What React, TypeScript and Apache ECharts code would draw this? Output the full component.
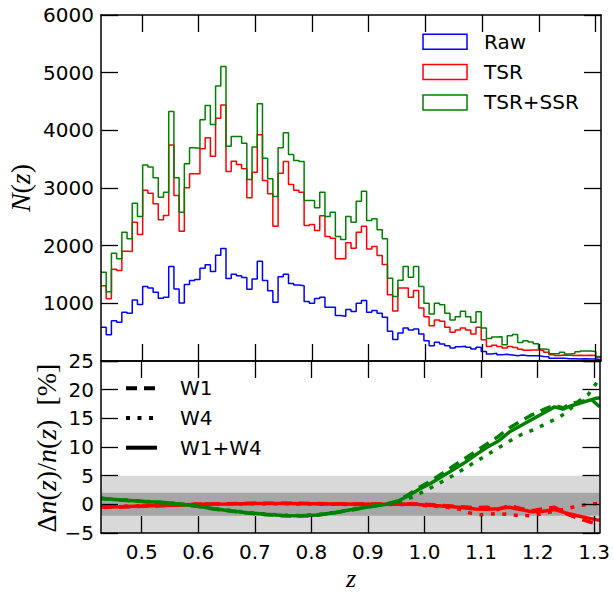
import React, { useEffect, useRef } from "react";
import * as echarts from "echarts";

// ---------- data ----------
const Z_MIN = 0.428;
const Z_MAX = 1.3095;
const BIN_COUNT = 96;
const BIN_WIDTH = (Z_MAX - Z_MIN) / BIN_COUNT;

const rawCounts = [
  584, 457, 700, 671, 844, 827, 1059, 978, 1290, 1267, 1191, 1087, 1105, 1637, 1249, 1006,
  1325, 1394, 1415, 1610, 1668, 1553, 1834, 1950, 1430, 1505, 1478, 1446, 1246, 1424, 1730, 1394,
  1220, 1018, 1463, 1505, 1342, 1316, 1305, 1032, 1000, 1085, 1105, 932, 932, 787, 776, 892,
  857, 1000, 1047, 845, 874, 828, 758, 515, 373, 486, 572, 538, 555, 468, 352, 266,
  323, 295, 266, 225, 248, 254, 237, 208, 237, 165, 121, 133, 109, 116, 104, 92,
  104, 92, 92, 92, 80, 75, 46, 46, 46, 40, 40, 35, 40, 35, 35, 23,
];
const tsrCounts = [
  1307, 1080, 1590, 1568, 1903, 1900, 2407, 2193, 2960, 2910, 2726, 2450, 2523, 3745, 2870, 2250,
  3003, 3246, 3246, 3680, 3871, 3552, 4210, 4440, 3286, 3465, 3408, 3333, 2830, 3275, 3923, 3130,
  2899, 2337, 3257, 3460, 3060, 2960, 2927, 2349, 2366, 2262, 2517, 2158, 2129, 1771, 1771, 2049,
  1955, 2233, 2337, 1944, 1985, 1828, 1672, 1151, 865, 1267, 1267, 1105, 1221, 920, 769, 613,
  712, 688, 584, 497, 538, 573, 538, 468, 584, 370, 250, 275, 250, 225, 250, 235,
  205, 185, 190, 190, 180, 150, 110, 95, 105, 100, 95, 100, 95, 100, 95, 60,
];
const tsrSsrCounts = [
  1539, 1200, 1869, 1771, 2233, 2118, 2736, 2505, 3400, 3362, 3177, 2841, 2927, 4328, 3177, 2580,
  3420, 3698, 3688, 4184, 4432, 4102, 4767, 5109, 3726, 3894, 3894, 3778, 3147, 3709, 4461, 3518,
  3159, 2852, 3698, 3958, 3581, 3477, 3460, 2783, 2783, 2656, 2927, 2505, 2580, 2158, 2106, 2505,
  2407, 2771, 2944, 2436, 2465, 2274, 2118, 1434, 1119, 1400, 1637, 1452, 1637, 1290, 1000, 816,
  1000, 977, 827, 712, 769, 862, 769, 671, 856, 573, 390, 415, 420, 280, 440, 460,
  320, 350, 330, 300, 210, 200, 125, 125, 150, 120, 130, 160, 175, 175, 165, 80,
];

const zTicks = [0.5, 0.6, 0.7, 0.8, 0.9, 1.0, 1.1, 1.2, 1.3];

// lower panel: [z, delta n / n in %]
const greenW1W4 = [
  [0.428, 1.0], [0.45, 0.85], [0.48, 0.65], [0.51, 0.45], [0.54, 0.3], [0.57, 0.0], [0.6, -0.35],
  [0.63, -0.8], [0.66, -1.15], [0.69, -1.5], [0.72, -1.75], [0.75, -1.95], [0.78, -2.0], [0.81, -1.85],
  [0.84, -1.45], [0.87, -0.95], [0.9, -0.45], [0.93, -0.05], [0.95, 0.4], [0.97, 1.4], [0.99, 2.6],
  [1.01, 3.6], [1.03, 4.8], [1.05, 6.0], [1.07, 7.2], [1.09, 8.6], [1.11, 9.9], [1.13, 11.0],
  [1.15, 12.6], [1.17, 13.7], [1.19, 14.8], [1.21, 15.9], [1.23, 17.0], [1.245, 16.6], [1.26, 17.2],
  [1.28, 17.8], [1.3, 18.4], [1.31, 18.6],
];
const greenW1 = [
  [0.428, 1.0], [0.45, 0.85], [0.48, 0.6], [0.51, 0.45], [0.54, 0.25], [0.57, 0.0], [0.6, -0.4],
  [0.63, -0.85], [0.66, -1.2], [0.69, -1.55], [0.72, -1.8], [0.75, -2.0], [0.78, -2.05], [0.81, -1.9],
  [0.84, -1.5], [0.87, -1.0], [0.9, -0.45], [0.93, 0.0], [0.95, 0.5], [0.97, 1.6], [0.99, 2.9],
  [1.01, 4.0], [1.03, 5.3], [1.05, 6.6], [1.07, 7.9], [1.09, 9.2], [1.11, 10.5], [1.13, 11.8],
  [1.15, 13.3], [1.17, 14.5], [1.19, 15.6], [1.21, 16.5], [1.23, 17.3], [1.245, 16.8], [1.26, 17.6],
  [1.28, 18.0], [1.295, 18.3], [1.31, 17.0],
];
const greenW4 = [
  [0.428, 1.1], [0.45, 0.9], [0.48, 0.7], [0.51, 0.5], [0.54, 0.3], [0.57, 0.0], [0.6, -0.3],
  [0.63, -0.75], [0.66, -1.1], [0.69, -1.45], [0.72, -1.7], [0.75, -1.9], [0.78, -1.95], [0.81, -1.8],
  [0.84, -1.4], [0.87, -0.9], [0.9, -0.4], [0.93, 0.0], [0.95, 0.3], [0.97, 0.9], [0.99, 1.8],
  [1.01, 2.8], [1.03, 3.9], [1.05, 5.0], [1.07, 6.2], [1.09, 7.4], [1.11, 8.6], [1.13, 9.8],
  [1.15, 11.0], [1.17, 12.1], [1.19, 12.9], [1.21, 13.8], [1.23, 14.8], [1.25, 15.9], [1.27, 17.8],
  [1.29, 19.2], [1.31, 22.0],
];
const redW1W4 = [
  [0.428, -0.45], [0.46, -0.4], [0.5, -0.3], [0.55, -0.15], [0.6, 0.0], [0.65, 0.05], [0.7, 0.15],
  [0.75, 0.15], [0.8, 0.1], [0.85, 0.05], [0.9, 0.0], [0.95, 0.0], [0.98, 0.05], [1.0, -0.1],
  [1.03, -0.3], [1.06, -0.5], [1.09, -0.8], [1.11, -0.85], [1.13, -0.75], [1.15, -0.5], [1.17, -0.9],
  [1.19, -1.3], [1.21, -1.2], [1.23, -0.9], [1.25, -1.5], [1.27, -2.0], [1.29, -2.4], [1.31, -2.8],
];
const redW1 = [
  [0.428, -0.5], [0.46, -0.45], [0.5, -0.35], [0.55, -0.2], [0.6, 0.0], [0.65, 0.1], [0.7, 0.2],
  [0.75, 0.2], [0.8, 0.15], [0.85, 0.1], [0.9, 0.05], [0.95, 0.05], [0.98, 0.1], [1.0, 0.0],
  [1.03, -0.2], [1.06, -0.4], [1.09, -0.6], [1.11, -0.5], [1.13, -0.9], [1.15, -0.2], [1.17, -0.7],
  [1.19, -1.1], [1.21, -0.8], [1.23, -0.5], [1.25, -1.6], [1.27, -2.4], [1.29, -3.0], [1.31, -3.6],
];
const redW4 = [
  [0.428, -0.4], [0.46, -0.35], [0.5, -0.25], [0.55, -0.1], [0.6, 0.05], [0.65, 0.05], [0.7, 0.1],
  [0.75, 0.1], [0.8, 0.05], [0.85, 0.0], [0.9, -0.05], [0.95, -0.05], [0.98, 0.0], [1.0, -0.2],
  [1.03, -0.4], [1.06, -0.8], [1.08, -1.5], [1.1, -1.8], [1.13, -1.6], [1.16, -1.9], [1.19, -2.0],
  [1.22, -1.4], [1.25, -0.8], [1.27, -0.3], [1.29, 0.0], [1.31, 0.2],
];

const histLegend = [
  { name: "Raw", color: "#0000ff" },
  { name: "TSR", color: "#ff0000" },
  { name: "TSR+SSR", color: "#008000" },
];
const sampleLegend = [
  { name: "W1", dash: [11, 7] as number[] | null },
  { name: "W4", dash: [4, 7.5] as number[] | null },
  { name: "W1+W4", dash: null as number[] | null },
];

// ---------- helpers ----------
const SANS = "DejaVu Sans";
const SERIF = "Liberation Serif";
const TICK_LEN = 17;

function histData(values: number[]) {
  const d = values.map((v, i) => [Z_MIN + i * BIN_WIDTH, v]);
  d.push([Z_MIN + values.length * BIN_WIDTH, values[values.length - 1]]);
  return d;
}

function xAxisCfg(gridIndex: number, position: "top" | "bottom", showLabel: boolean) {
  return {
    type: "value",
    gridIndex,
    position,
    min: Z_MIN,
    max: Z_MAX,
    z: 10,
    axisLine: { show: true, onZero: false, lineStyle: { color: "#000", width: 1.5 } },
    axisTick: {
      show: true,
      inside: true,
      length: TICK_LEN,
      customValues: zTicks,
      lineStyle: { color: "#000", width: 1.3 },
    },
    axisLabel: {
      show: showLabel,
      customValues: zTicks,
      margin: 9,
      color: "#000",
      fontFamily: SANS,
      fontSize: 20,
      formatter: (v: number) => v.toFixed(1),
    },
    splitLine: { show: false },
  };
}

function yAxisCfg(
  gridIndex: number,
  position: "left" | "right",
  min: number,
  max: number,
  interval: number,
  showLabel: boolean,
  formatter: (v: number) => string
) {
  return {
    type: "value",
    gridIndex,
    position,
    min,
    max,
    interval,
    z: 10,
    axisLine: { show: true, onZero: false, lineStyle: { color: "#000", width: 1.5 } },
    axisTick: { show: true, inside: true, length: TICK_LEN, lineStyle: { color: "#000", width: 1.3 } },
    axisLabel: {
      show: showLabel,
      margin: 7,
      color: "#000",
      fontFamily: SANS,
      fontSize: 20,
      formatter,
    },
    splitLine: { show: false },
  };
}

function lowerSeries(data: number[][], color: string, dash: number[] | null, z: number) {
  return {
    type: "line",
    xAxisIndex: 2,
    yAxisIndex: 2,
    data,
    showSymbol: false,
    symbol: "none",
    z,
    lineStyle: { color, width: 3.5, type: dash ? dash : "solid", cap: "butt" },
  };
}

function histSeries(values: number[], color: string, z: number) {
  return {
    type: "line",
    xAxisIndex: 0,
    yAxisIndex: 0,
    step: "end",
    data: histData(values),
    showSymbol: false,
    symbol: "none",
    z,
    lineStyle: { color, width: 1.5 },
  };
}

function richFor(size: number) {
  return {
    i: { fontFamily: SERIF, fontStyle: "italic", fontSize: size, fill: "#000" },
    r: { fontFamily: SERIF, fontSize: size, fill: "#000" },
  };
}

export default function App() {
  const ref = useRef<HTMLDivElement>(null);

  useEffect(() => {
    if (!ref.current) return;
    const chart = echarts.init(ref.current, undefined, { renderer: "svg" });

    const graphic: any[] = [];
    histLegend.forEach((item, i) => {
      const y = 34.3 + i * 30.3;
      graphic.push({
        type: "rect",
        shape: { x: 423, y, width: 44, height: 15 },
        style: { fill: "none", stroke: item.color, lineWidth: 1.5 },
        z: 20,
      });
      graphic.push({
        type: "text",
        x: 484,
        y: y + 7.5,
        style: {
          text: item.name,
          fill: "#000",
          font: `20px "${SANS}"`,
          align: "left",
          verticalAlign: "middle",
        },
        z: 20,
      });
    });
    sampleLegend.forEach((item, i) => {
      const y = 388.3 + i * 29.7;
      graphic.push({
        type: "line",
        shape: { x1: 126, y1: y, x2: 157, y2: y },
        style: { stroke: "#000", lineWidth: 4, lineDash: item.dash ? item.dash : null, lineCap: "butt" },
        z: 20,
      });
      graphic.push({
        type: "text",
        x: 180,
        y,
        style: {
          text: item.name,
          fill: "#000",
          font: `20px "${SANS}"`,
          align: "left",
          verticalAlign: "middle",
        },
        z: 20,
      });
    });

    graphic.push({
      type: "text",
      x: 20,
      y: 188,
      rotation: Math.PI / 2,
      style: { text: "{i|N}{r|(}{i|z}{r|)}", rich: richFor(28), align: "center", verticalAlign: "middle" },
    });
    graphic.push({
      type: "text",
      x: 46,
      y: 448,
      rotation: Math.PI / 2,
      style: {
        text: "{r|Δ}{i|n}{r|(}{i|z}{r|)/}{i|n}{r|(}{i|z}{r|)  [%]}",
        rich: richFor(28),
        align: "center",
        verticalAlign: "middle",
      },
    });
    graphic.push({
      type: "text",
      x: 351,
      y: 578,
      style: { text: "{i|z}", rich: richFor(26), align: "center", verticalAlign: "middle" },
    });

    const option: any = {
      animation: false,
      backgroundColor: "#fff",
      grid: [
        { left: 101, top: 15, width: 500, height: 346 },
        { left: 101, top: 361, width: 500, height: 172 },
      ],
      xAxis: [
        xAxisCfg(0, "bottom", false),
        xAxisCfg(0, "top", false),
        xAxisCfg(1, "bottom", true),
        xAxisCfg(1, "top", false),
      ],
      yAxis: [
        yAxisCfg(0, "left", 0, 6000, 1000, true, (v: number) => (v === 0 ? "" : String(v))),
        yAxisCfg(0, "right", 0, 6000, 1000, false, (v: number) => String(v)),
        yAxisCfg(1, "left", -5, 25, 5, true, (v: number) => (v < 0 ? "\u2212" + Math.abs(v) : String(v))),
        yAxisCfg(1, "right", -5, 25, 5, false, (v: number) => String(v)),
      ],
      series: [
        histSeries(rawCounts, "#0000ff", 3),
        histSeries(tsrCounts, "#ff0000", 4),
        histSeries(tsrSsrCounts, "#008000", 5),
        {
          type: "line",
          xAxisIndex: 2,
          yAxisIndex: 2,
          data: [
            [Z_MIN, 0],
            [Z_MAX, 0],
          ],
          showSymbol: false,
          symbol: "none",
          lineStyle: { opacity: 0, width: 0 },
          z: 1,
          silent: true,
          markArea: {
            silent: true,
            data: [
              [{ yAxis: -5, itemStyle: { color: "#d9d9d9", opacity: 1 } }, { yAxis: 5 }],
              [{ yAxis: -2, itemStyle: { color: "#a6a6a6", opacity: 1 } }, { yAxis: 2 }],
            ],
          },
        },
        lowerSeries(redW1, "#ff0000", [11, 7], 3),
        lowerSeries(redW4, "#ff0000", [4, 7.5], 3),
        lowerSeries(redW1W4, "#ff0000", null, 3),
        lowerSeries(greenW1, "#008000", [11, 7], 4),
        lowerSeries(greenW4, "#008000", [4, 7.5], 4),
        lowerSeries(greenW1W4, "#008000", null, 4),
      ],
      graphic,
    };

    chart.setOption(option);
    return () => chart.dispose();
  }, []);

  return (
    <div
      ref={ref}
      style={{ position: "fixed", left: 0, top: 0, width: 613, height: 592, background: "#fff" }}
    />
  );
}
